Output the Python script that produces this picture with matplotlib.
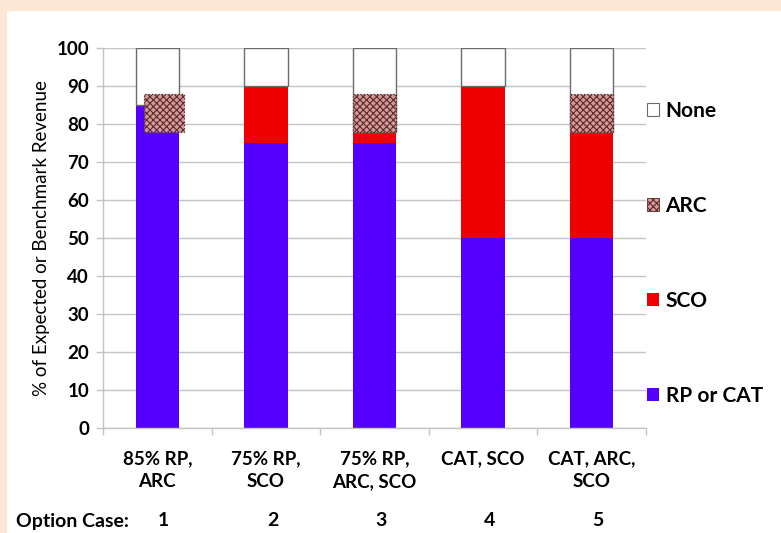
import matplotlib
matplotlib.use("Agg")
import matplotlib.pyplot as plt
from matplotlib.patches import Patch
import numpy as np

plt.rcParams['font.family'] = ['Lato', 'DejaVu Sans']
plt.rcParams['hatch.linewidth'] = 0.8

case_labels = ["85% RP,\nARC", "75% RP,\nSCO", "75% RP,\nARC, SCO", "CAT, SCO", "CAT, ARC,\nSCO"]
case_numbers = ["1", "2", "3", "4", "5"]
rp_cat = [85, 75, 75, 50, 50]
sco = [0, 15, 3, 40, 28]
arc_low = [78, 0, 78, 0, 78]
arc = [10, 0, 10, 0, 10]
y_ticks = [0, 10, 20, 30, 40, 50, 60, 70, 80, 90, 100]

C_RP = "#5500FF"
C_SCO = "#EE0000"
C_ARC = "#D59A98"
C_ARC_EDGE = "#5a2a2a"
C_NONE_EDGE = "#6b6b6b"
C_GRID = "#c4c4c4"

fig = plt.figure(figsize=(7.81, 5.33), dpi=100)
fig.patch.set_facecolor("white")
# peach frame strips along the top and left
fig.patches.append(plt.Rectangle((0, 1 - 11 / 533), 1, 11 / 533, transform=fig.transFigure,
                                 facecolor="#FDE6D4", edgecolor="none", zorder=0))
fig.patches.append(plt.Rectangle((0, 0), 7 / 781, 1, transform=fig.transFigure,
                                 facecolor="#FDE6D4", edgecolor="none", zorder=0))

ax = fig.add_axes([103 / 781, 1 - 428 / 533, (646 - 103) / 781, (428 - 48) / 533])

x = np.arange(len(case_labels))
w = 0.4
rp = np.array(rp_cat)
sc = np.array(sco)
top = rp + sc

ax.bar(x, rp, w, color=C_RP, zorder=2)
ax.bar(x, sc, w, bottom=rp, color=C_SCO, zorder=2)
ax.bar(x, 100 - top, w, bottom=top, facecolor="white", edgecolor=C_NONE_EDGE,
       linewidth=1.0, zorder=2)

# ARC segments; in case 1 the ARC block sits offset over the RP bar
shift = np.array([0.065, 0, 0, 0, 0])
widths = np.array([0.37, w, w, w, w])
arc_v = np.array(arc)
mask = arc_v > 0
ax.bar((x + shift)[mask], arc_v[mask], widths[mask], bottom=np.array(arc_low)[mask],
       facecolor=C_ARC, edgecolor=C_ARC_EDGE, hatch="xxxxx", linewidth=0.9,
       linestyle=":", zorder=3)

ax.set_xlim(-0.5, len(case_labels) - 0.5)
ax.set_ylim(0, 100)
ax.set_yticks(y_ticks)
ax.set_yticklabels([str(v) for v in y_ticks], fontsize=13.5, fontweight="bold")
ax.yaxis.grid(True, color=C_GRID, linewidth=1.0, zorder=0)
ax.set_axisbelow(True)

ax.set_xticks(x)
ax.set_xticklabels(case_labels, fontsize=13.5, fontweight="bold", linespacing=1.4)
ax.set_xticks(np.arange(-0.5, len(case_labels)), minor=True)
ax.tick_params(axis="x", which="major", length=0, pad=16)
ax.tick_params(axis="x", which="minor", length=5, color=C_GRID, width=1)
ax.tick_params(axis="y", length=5, color=C_GRID, width=1, pad=5)

for s in ["top", "right"]:
    ax.spines[s].set_visible(False)
for s in ["left", "bottom"]:
    ax.spines[s].set_color(C_GRID)
    ax.spines[s].set_linewidth(1.0)

ax.set_ylabel("% of Expected or Benchmark Revenue", fontsize=13.5, labelpad=5)

# option case numbering row
fig.text(16 / 781, 1 - 521 / 533, "Option Case:", fontsize=14, fontweight="bold",
         ha="left", va="center")
for xi, num in zip(x, case_numbers):
    xf = fig.transFigure.inverted().transform(ax.transData.transform((xi + 0.06, 0)))[0]
    fig.text(xf, 1 - 521 / 533, num, fontsize=14, fontweight="bold", ha="center", va="center")

handles = [
    Patch(facecolor="white", edgecolor=C_NONE_EDGE, linewidth=0.8, label="None"),
    Patch(facecolor=C_ARC, edgecolor=C_ARC_EDGE, hatch="xxxxx", linewidth=0.6, label="ARC"),
    Patch(facecolor=C_SCO, edgecolor="none", label="SCO"),
    Patch(facecolor=C_RP, edgecolor="none", label="RP or CAT"),
]
fig.legend(handles=handles, loc="center left", bbox_to_anchor=(628 / 781, 1 - 253 / 533),
           frameon=False, prop={"weight": "bold", "size": 15},
           handlelength=0.6, handleheight=0.6, handletextpad=0.3, labelspacing=3.6)

fig.savefig("out.png", dpi=100, facecolor=fig.get_facecolor())
